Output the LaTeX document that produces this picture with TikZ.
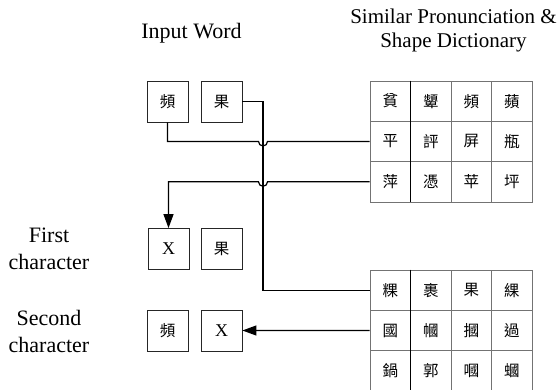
\documentclass[tikz,border=0pt]{standalone}
\usepackage{fontspec}
\setmainfont{Liberation Serif}
\newfontfamily\cjk{Noto Sans CJK TC}
\usetikzlibrary{arrows.meta}

\begin{document}
\begin{tikzpicture}[x=1pt,y=-1pt,
  title/.style={font=\fontsize{21}{24}\selectfont, align=center, inner sep=0pt},
  sidelabel/.style={font=\fontsize{22}{27}\selectfont, align=center, inner sep=0pt},
  charbox/.style={draw=black!85, line width=0.8pt, minimum width=41pt, minimum height=41pt,
    inner sep=0pt, font=\cjk\fontsize{15.5}{15.5}\selectfont},
  xbox/.style={charbox, font=\fontsize{18}{18}\selectfont},
  cell/.style={draw=black!55, line width=0.8pt, minimum width=40.5pt, minimum height=40.3pt,
    inner sep=0pt, font=\cjk\fontsize{15.5}{15.5}\selectfont},
  wire/.style={line width=1.2pt, black},
  arrowwire/.style={wire, -{Triangle[length=14pt,width=10pt]}},
]
\useasboundingbox (0,0) rectangle (557,390);

% headings
\node[title, font=\fontsize{22}{24}\selectfont, anchor=base] (hin) at (191.5,39) {Input Word};
\node[title] (hdict) at (453.5,30) {Similar Pronunciation \&\\Shape Dictionary};

% side labels
\node[sidelabel] (lfirst) at (49,249) {First\\character};
\node[sidelabel] (lsecond) at (49,331) {Second\\character};

% input word
\node[charbox] (in1) at (167.5,101.5) {頻};
\node[charbox] (in2) at (221.5,101.5) {果};

% first character replaced
\node[xbox] (a1) at (168.5,249) {X};
\node[charbox] (a2) at (221.5,249) {果};

% second character replaced
\node[charbox] (b1) at (167.5,330.5) {頻};
\node[xbox] (b2) at (221.5,330.5) {X};

% dictionary block for the first character
\foreach \r/\row in {1/{貧,顰,頻,蘋},2/{平,評,屏,瓶},3/{萍,憑,苹,坪}}{
  \foreach \ch [count=\c] in \row {
    \node[cell] (p\r\c) at ({370+40.5*(\c-0.5)},{81+40.33*(\r-0.5)}) {\ch};
  }
}
\draw[line width=1pt, black] (p11.north east) -- (p31.south east);

% dictionary block for the second character
\foreach \r/\row in {1/{粿,裹,果,綶},2/{國,幗,摑,過},3/{鍋,郭,嘓,蟈}}{
  \foreach \ch [count=\c] in \row {
    \node[cell] (q\r\c) at ({370+40.5*(\c-0.5)},{270+40.33*(\r-0.5)}) {\ch};
  }
}
\draw[line width=1pt, black] (q11.north east) -- (q31.south east);

% vertical run of the second character's wire
\coordinate (vx) at (263,0);

% first character -> row 2 of first dictionary block (hops the vertical wire)
\draw[wire] (in1.south) -- (in1.south |- p21.west) -- ([xshift=-4.5pt]vx |- p21.west)
  arc[start angle=180, end angle=360, radius=4.5pt] -- (p21.west);

% second character -> first row of second dictionary block
\draw[wire] (in2.east) -- (vx |- in2.east) -- (vx |- q11.west) -- (q11.west);

% row 3 of first dictionary block -> replaced first character (hops the vertical wire)
\draw[arrowwire] (p31.west) -- ([xshift=4.5pt]vx |- p31.west)
  arc[start angle=360, end angle=180, radius=4.5pt] -- (a1.north |- p31.west) -- (a1.north);

% row 2 of second dictionary block -> replaced second character
\draw[arrowwire] (q21.west) -- (b2.east);
\end{tikzpicture}
\end{document}
